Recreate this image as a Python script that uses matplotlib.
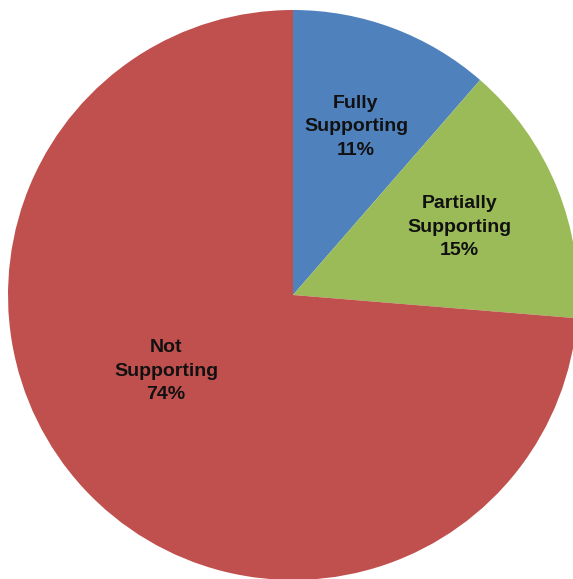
import matplotlib.pyplot as plt
import numpy as np

categories = ["Fully\nSupporting", "Partially\nSupporting", "Not\nSupporting"]
values = [11.4, 14.9, 73.7]  # percent
colors = ["#4F81BD", "#9BBB59", "#C0504D"]

plt.rcParams['font.family'] = ['Liberation Sans', 'DejaVu Sans']

fig = plt.figure(figsize=(5.73, 5.79), dpi=100)
ax = fig.add_axes([0, 0, 1, 1])

cx, cy, r = 293, 284, 285
labels = [f"{c}\n{round(v)}%" for c, v in zip(categories, values)]

wedges, texts = ax.pie(values, colors=colors, startangle=90, counterclock=False,
                       center=(cx, cy), radius=r, labels=labels, labeldistance=0.63,
                       frame=True,
                       textprops=dict(fontsize=14, fontweight='bold', color='#111111',
                                      ha='center', va='center', linespacing=1.5))
ax.set_xlim(0, 573)
ax.set_ylim(0, 579)
ax.set_aspect('equal')
ax.axis('off')

# Excel puts the big slice's label closer to the left
ang = np.deg2rad(211)
texts[2].set_position((cx + 148 * np.cos(ang), cy + 148 * np.sin(ang)))
for t in texts:
    t.set_horizontalalignment('center')

fig.savefig("out.png", dpi=100)
